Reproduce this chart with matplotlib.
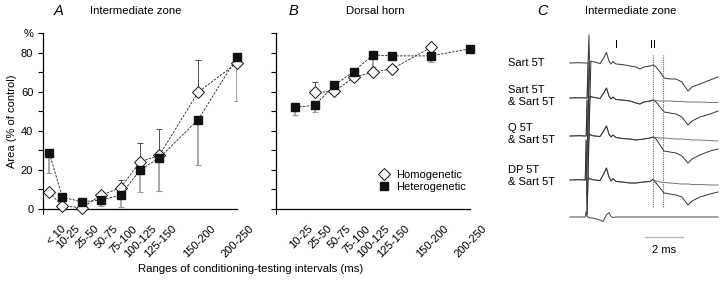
import matplotlib
matplotlib.use('Agg')
import matplotlib.pyplot as plt
import matplotlib.transforms as mtransforms
from matplotlib.lines import Line2D
import numpy as np

plt.rcParams['font.family'] = ['Liberation Sans', 'DejaVu Sans']
plt.rcParams['font.size'] = 7.5

# ---- panel A : intermediate zone ----
cats_a = ['< 10', '10-25', '25-50', '50-75', '75-100', '100-125', '125-150', '150-200', '200-250']
xpos_a = [0.33, 1, 2, 3, 4, 5, 6, 8, 10]
hom_a = [8.5, 1.5, 0.7, 7.1, 10.9, 24.1, 27.5, 59.8, 74.7]
hom_a_hi = [0, 0, 0, 1.5, 4, 9.5, 13.5, 16.5, 0]
het_a = [28.4, 6.0, 3.7, 4.6, 7.1, 19.9, 26.2, 45.7, 77.6]
het_a_lo = [10, 0, 0, 3, 6, 11.4, 17, 23.3, 22.6]

# ---- panel B : dorsal horn ----
cats_b = ['10-25', '25-50', '50-75', '75-100', '100-125', '125-150', '150-200', '200-250']
xpos_b = [1, 2, 3, 4, 5, 6, 8, 10]
hom_b_x = [2, 3, 4, 5, 6, 8]
hom_b = [59.6, 60.1, 67.3, 70.0, 71.7, 82.7]
hom_b_hi = [5.3, 0, 0, 0, 0, 0]
het_b = [52.0, 53.0, 63.2, 70.3, 78.8, 78.3, 78.3, 81.9]
het_b_lo = [3.7, 3.6, 0, 0, 6, 0, 3.2, 0]

# ---- panel C : traces (ms, amplitude) ----
t_ms = [0, 0.5, 0.8, 0.85, 0.9, 0.95, 1.0, 1.05, 1.1, 1.15, 1.3, 1.58, 1.74, 1.92,
        2.05, 2.16, 2.26, 2.42, 2.74, 3.16, 3.47, 3.68, 3.89, 4.21, 4.37, 4.53,
        4.74, 4.95, 5.26, 5.58, 5.89, 6.21, 6.42, 6.84, 7.37, 7.79]
sart = [0, 0.3, 0, 0, 0, 0, 28, -36, 2, 1.5, 1, -0.5, 4, 10.5,
        2, -1, 1.5, -1, -1.5, -3, -4, -6, -4, -3, -2, -4,
        -9, -15, -16, -16, -19, -28, -24, -21, -17, -14]
sart_sart_a = [0, 0.3, 0, 0, 0, 35, -42, 2, 1.5, 1, 0.5, -0.5, 4, 10,
               2, -1, 1, -1.5, -2, -3, -5, -6, -4, -3, -2, -2.5,
               -3, -3, -3, -3.5, -3.5, -4, -4, -4, -4.5, -4.5]
sart_sart_b = [0, 0.3, 0, 0, 0, 35, -42, 2, 1.5, 1, 0.5, -0.5, 4, 10,
               2, -1, 1, -1.5, -2, -3, -5, -6, -4, -3, -2, -4,
               -9, -14, -15, -16, -19, -27, -23, -19, -16, -13]
q_sart_a = [0, 0.3, 0, 0, 36, -44, 2, 1.5, 1, 0.5, 0, -0.5, 4, 10,
            2, -1, 1, -1.5, -2.5, -3, -4, -3.5, -3, -2, -1, -1.5,
            -2, -2, -2.5, -3, -3, -3.5, -4, -4, -4.5, -5]
q_sart_b = [0, 0.3, 0, 0, 36, -44, 2, 1.5, 1, 0.5, 0, -0.5, 4, 10,
            2, -1, 1, -1.5, -2.5, -3, -4, -3.5, -3, -2, -1, -3,
            -9, -15, -16, -17, -20, -27, -23, -19, -15, -13]
dp_sart_a = [0, 0.3, 0, 40, -35, 2, 1.5, 1, 1, 0.5, 0, -0.5, 5, 12,
             3, -1, 1.5, -1.5, -2, -3, -3, -2.5, -2, -1.5, 0.5, -1,
             -2, -2.5, -3, -3.5, -4, -4, -4.5, -4.5, -5, -5]
dp_sart_b = [0, 0.3, 0, 40, -35, 2, 1.5, 1, 1, 0.5, 0, -0.5, 5, 12,
             3, -1, 1.5, -1.5, -2, -3, -3, -2.5, -2, -1.5, 0.5, -3,
             -8, -13, -14, -15, -17, -25, -21, -17, -14, -12]
control = [0, 0, 0, 5.5, 0.5, 0, -0.5, -1, -1, -1, -1.5, -3, -4.5, 2,
           4.5, 0.5, -0.5, 0, 0, 0, 0, 0, 0, 0, 0, 0,
           0, 0, 0, 0, 0, 0, 0, 0, 0, 0]
trace_labels = ['Sart 5T', 'Sart 5T\n& Sart 5T', 'Q 5T\n& Sart 5T', 'DP 5T\n& Sart 5T']
marks_ms = [4.35, 4.88]

W, H = 720, 284
fig = plt.figure(figsize=(W / 100, H / 100), dpi=100)


def frac(x0, y0, w, h):
    return [x0 / W, (H - y0 - h) / H, w / W, h / H]


def style_axes(ax, cats, xpos, show_labels):
    ax.set_xlim(0, 10)
    ax.set_ylim(0, 90)
    for s in ['top', 'right']:
        ax.spines[s].set_visible(False)
    for s in ['left', 'bottom']:
        ax.spines[s].set_linewidth(0.9)
    ax.set_xticks(xpos, cats, rotation=45, ha='right', va='center',
                  rotation_mode='anchor', fontsize=8)
    ax.tick_params(axis='x', which='major', length=0, pad=13)
    ax.set_xticks([0, 2, 4, 6, 8, 10], minor=True)
    ax.tick_params(axis='x', which='minor', length=3.5, width=0.8)
    shift = mtransforms.ScaledTranslation(11 / 72, 0, fig.dpi_scale_trans)
    for lab in ax.get_xticklabels():
        lab.set_transform(lab.get_transform() + shift)
    ax.set_yticks([0, 20, 40, 60, 80, 90])
    ax.set_yticks([10, 30, 50, 70], minor=True)
    ax.tick_params(axis='y', which='both', length=3.5, width=0.8, labelsize=8)
    if show_labels:
        ax.set_yticklabels(['0', '20', '40', '60', '80', '%'])
    else:
        ax.set_yticklabels([])


def plot_series(ax, x, y, lo, hi, filled):
    if filled:
        ax.errorbar(x, y, yerr=[lo, hi], fmt='none', ecolor='#999999',
                    elinewidth=1.2, capsize=2, capthick=0.8, zorder=2)
        ax.plot(x, y, color='#222222', lw=0.6, ls=(0, (3, 1.5)),
                marker='s', ms=5.8, mfc='#111111', mec='#111111',
                zorder=4, clip_on=False)
    else:
        ax.errorbar(x, y, yerr=[lo, hi], fmt='none', ecolor='#333333',
                    elinewidth=0.6, capsize=2, capthick=0.6, zorder=2)
        ax.plot(x, y, color='#222222', lw=0.6, ls=(0, (3, 1.5)),
                marker='D', ms=5.8, mfc='white', mec='#111111', mew=0.7,
                zorder=3, clip_on=False)


ax_a = fig.add_axes(frac(43, 33, 194, 176))
plot_series(ax_a, xpos_a, hom_a, [0] * len(hom_a), hom_a_hi, False)
plot_series(ax_a, xpos_a, het_a, het_a_lo, [0] * len(het_a), True)
style_axes(ax_a, cats_a, xpos_a, True)
ax_a.set_ylabel('Area (% of control)', labelpad=3, fontsize=8)

ax_b = fig.add_axes(frac(276, 33, 194, 176))
plot_series(ax_b, hom_b_x, hom_b, [0] * len(hom_b), hom_b_hi, False)
plot_series(ax_b, xpos_b, het_b, het_b_lo, [0] * len(het_b), True)
style_axes(ax_b, cats_b, xpos_b, False)
handles = [Line2D([], [], ls='none', marker='D', ms=5.8, mfc='white', mec='#111111', mew=0.7),
           Line2D([], [], ls='none', marker='s', ms=5.8, mfc='#111111', mec='#111111')]
ax_b.legend(handles, ['Homogenetic', 'Heterogenetic'], loc='upper left',
            bbox_to_anchor=(0.5, 0.255), frameon=False, handlelength=1,
            handletextpad=0.6, labelspacing=0.2, borderpad=0, fontsize=8)

fig.text(251 / W, 1 - 269 / H, 'Ranges of conditioning-testing intervals (ms)',
         ha='center', va='center', fontsize=8.2)

# panel titles
for x_l, x_t, letter, title in [(59, 90, 'A', 'Intermediate zone'),
                                (293, 346, 'B', 'Dorsal horn'),
                                (543, 585, 'C', 'Intermediate zone')]:
    fig.text(x_l / W, 1 - 11 / H, letter, style='italic', fontsize=10.5,
             ha='center', va='center')
    fig.text(x_t / W, 1 - 11 / H, title, fontsize=8.2, ha='left', va='center')

# ---- panel C ----
ax_c = fig.add_axes(frac(560, 20, 160, 240))
ax_c.set_xlim(-10 / 19, 150 / 19)
ax_c.set_ylim(0, 240)
ax_c.axis('off')
t = np.array(t_ms)
offsets = [197, 162, 124, 80, 43]
ax_c.plot(t, np.array(sart) + offsets[0], color='#333333', lw=0.7)
for a, b, off in [(sart_sart_a, sart_sart_b, offsets[1]),
                  (q_sart_a, q_sart_b, offsets[2]),
                  (dp_sart_a, dp_sart_b, offsets[3])]:
    ax_c.plot(t, np.array(a) + off, color='#777777', lw=0.7)
    ax_c.plot(t, np.array(b) + off, color='#333333', lw=0.7)
ax_c.plot(t, np.array(control) + offsets[4], color='#444444', lw=0.7)
for m in marks_ms:
    ax_c.plot([m, m], [53, 205], color='#666666', lw=0.8, ls=(0, (1, 1)))
ax_c.text(2.46, 215, 'I', ha='center', va='center', fontsize=8)
ax_c.text(4.37, 215, 'II', ha='center', va='center', fontsize=8)
ax_c.plot([3.95, 5.95], [23, 23], color='#bbbbbb', lw=1)
ax_c.text(4.95, 10, '2 ms', ha='center', va='center', fontsize=8)

for lab, y in zip(trace_labels, [63, 96, 134, 176]):
    fig.text(508 / W, 1 - y / H, lab, ha='left', va='center', fontsize=8,
             linespacing=1.3)

fig.savefig('out.png', dpi=100)
